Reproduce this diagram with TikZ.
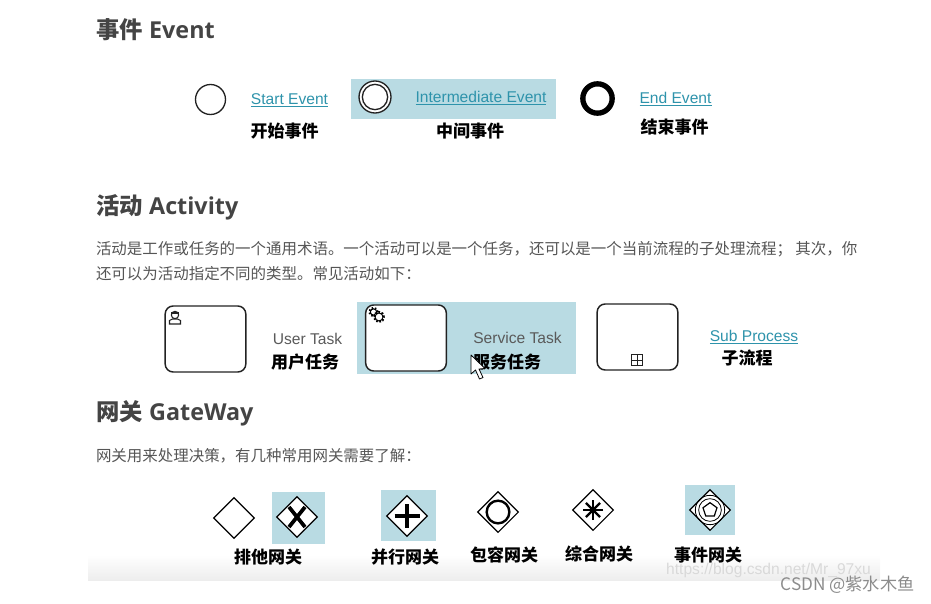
\documentclass[tikz,border=0pt]{standalone}
\usepackage{fontspec}
\setmainfont{Liberation Sans}
\newfontfamily\cjk{Noto Sans CJK SC}
\newfontfamily\headfont{Open Sans}
\usetikzlibrary{shapes.geometric}
\definecolor{typeHi}{HTML}{B9DBE3}
\definecolor{typeLink}{HTML}{2E93AB}
\definecolor{typeBody}{HTML}{555555}
\definecolor{typeHead}{HTML}{444444}
\definecolor{typeTask}{HTML}{5A5A5A}
\definecolor{typeLine}{HTML}{222222}
\newcommand{\linkText}[1]{\underline{#1}}
\newcommand{\cnComma}{\symbol{"FF0C}}
\newcommand{\cnSemi}{\symbol{"FF1B}}
\newcommand{\cnColon}{\symbol{"FF1A}}
\tikzset{
	heading/.style={anchor=west,text=typeHead,font=\fontsize{17.5}{20}\selectfont\bfseries},
	bodytext/.style={anchor=west,text=typeBody,font=\fontsize{11.6}{13}\cjk},
	linklabel/.style={text=typeLink,font=\fontsize{11.7}{14}\selectfont},
	tasklabel/.style={text=typeTask,font=\fontsize{11.7}{14}\selectfont},
	cnlabel/.style={text=black,font=\fontsize{12.75}{15}\cjk\bfseries},
	hibox/.style={fill=typeHi,draw=none},
	taskbox/.style={draw=typeLine,line width=1.1pt,rounded corners=6pt,fill=white,minimum width=60.5pt,minimum height=49.5pt},
	gatebox/.style={diamond,aspect=1,draw=black,line width=0.9pt,fill=white,minimum size=30.5pt},
	ringnode/.style={circle,draw=typeLine,minimum size=#1},
}
\begin{document}
\begin{tikzpicture}[x=0.75pt,y=-0.75pt,inner sep=0pt,outer sep=0pt]
	\useasboundingbox (0,0) rectangle (931,603);
	\shade[top color=white,bottom color=black!7] (88,555) rectangle (880,580);

	% event
	\node[heading] (headEvent) at (96,30) {{\cjk 事件} {\headfont Event}};
	\node[hibox,minimum width=153.75pt,minimum height=30pt] (hiEvent) at (453.5,99) {};
	\node[ringnode=22.5pt,line width=1pt] (startEvent) at (210.5,99.5) {};
	\node[ringnode=24pt,line width=1pt,fill=white] (midOuter) at (375,97) {};
	\node[ringnode=19pt,line width=1pt] (midInner) at (375,97) {};
	\node[ringnode=22pt,draw=black,line width=4pt] (endEvent) at (597.5,98.5) {};
	\node[linklabel] (startText) at (289.5,100) {\linkText{Start Event}};
	\node[linklabel] (midText) at (481,98) {\linkText{Intermediate Event}};
	\node[linklabel] (endText) at (675.5,99) {\linkText{End Event}};
	\node[cnlabel] (startCn) at (284.5,131) {开始事件};
	\node[cnlabel] (midCn) at (470,131) {中间事件};
	\node[cnlabel] (endCn) at (674.5,127) {结束事件};

	% activity
	\node[heading] (headActivity) at (96,207) {{\cjk 活动} {\headfont Activity}};
	\node[bodytext] (bodyOne) at (96,249.5) {活动是工作或任务的一个通用术语。一个活动可以是一个任务\cnComma 还可以是一个当前流程的子处理流程\cnSemi{} 其次\cnComma 你};
	\node[bodytext] (bodyTwo) at (96,273.5) {还可以为活动指定不同的类型。常见活动如下\cnColon};
	\node[hibox,minimum width=164.25pt,minimum height=54pt] (hiTask) at (466.5,338) {};
	\node[taskbox] (userTask) at (205.5,339) {};
	\node[taskbox] (serviceTask) at (406,338) {};
	\node[taskbox] (subTask) at (637.5,337) {};
	\node[tasklabel] (userText) at (307.5,339) {User Task};
	\node[tasklabel] (serviceText) at (517.5,338) {Service Task};
	\node[linklabel] (subText) at (754,337) {\linkText{Sub Process}};
	\node[cnlabel] (userCn) at (305,362) {用户任务};
	\node[cnlabel] (serviceCn) at (507,362) {服务任务};
	\node[cnlabel] (subCn) at (747,358) {子流程};
	% user icon
	\node[circle,draw=typeLine,line width=0.8pt,minimum size=5.5pt] (userHead) at (175,315) {};
	\draw[typeLine,line width=0.8pt,fill=white] (169.5,324) -- (169.5,320.5) -- (172.5,319) -- (177.5,319) -- (180.5,320.5) -- (180.5,324) -- cycle;
	\draw[typeLine,line width=1.2pt] (171,313) -- (179,313);
	% gear icon
	\foreach \gx/\gy/\gr in {373.5/312/3,379/317/3.6}{
		\draw[black,line width=1.8pt,dash pattern=on 1.2pt off 1.2pt,fill=white] (\gx,\gy) circle[radius=\gr pt];
		\draw[black,line width=0.7pt] (\gx,\gy) circle[radius=\gr pt-0.6pt];
	}
	% sub process marker
	\node[draw=typeLine,line width=0.6pt,minimum size=8pt] (subMark) at (637,360) {};
	\draw[typeLine,line width=0.6pt] (subMark.west) -- (subMark.east);
	\draw[typeLine,line width=0.6pt] (subMark.north) -- (subMark.south);
	% cursor
	\draw[black,line width=0.6pt,fill=white,line join=round] (471,355) -- (471,374) -- (475.5,370) -- (479.5,379) -- (483,377.5) -- (479,369) -- (485,368.5) -- cycle;

	% gateway
	\node[heading] (headGate) at (96,413) {{\cjk 网关} {\headfont GateWay}};
	\node[bodytext] (bodyGate) at (96,455.5) {网关用来处理决策\cnComma 有几种常用网关需要了解\cnColon};
	\node[hibox,minimum width=39.75pt,minimum height=39pt] (hiX) at (298.5,518) {};
	\node[hibox,minimum width=41.25pt,minimum height=38.25pt] (hiPlus) at (408.5,515.5) {};
	\node[hibox,minimum width=37.5pt,minimum height=37.5pt] (hiEv) at (710,510) {};
	\node[gatebox] (gatePlain) at (234,518) {};
	\node[gatebox] (gateX) at (297,517) {};
	\node[gatebox] (gatePlus) at (407,516) {};
	\node[gatebox] (gateIncl) at (498,512) {};
	\node[gatebox] (gateComplex) at (593,510) {};
	\node[gatebox] (gateEv) at (710,510) {};
	% gateway marks
	\draw[black,line width=2.8pt] (289,507) -- (305,527) (305,507) -- (289,527);
	\draw[black,line width=3.2pt] (394.5,516) -- (419.5,516) (407,504) -- (407,528);
	\node[circle,draw=black,line width=1.8pt,minimum size=17pt] (inclRing) at (498,512) {};
	\foreach \ang in {0,45,...,135}{
		\draw[black,line width=1.8pt] (gateComplex.center) ++(\ang:10) -- ++(\ang+180:20);
	}
	\node[circle,draw=black,line width=0.6pt,minimum size=22pt] (evOuter) at (710,510) {};
	\node[circle,draw=black,line width=0.6pt,minimum size=17pt] (evMid) at (710,510) {};
	\node[regular polygon,regular polygon sides=5,draw=black,line width=0.9pt,minimum size=11pt] (evPenta) at (710,510) {};
	\node[cnlabel] (gatePlainCn) at (268,557) {排他网关};
	\node[cnlabel] (gatePlusCn) at (405,557) {并行网关};
	\node[cnlabel] (gateInclCn) at (504,555) {包容网关};
	\node[cnlabel] (gateComplexCn) at (599,554) {综合网关};
	\node[cnlabel] (gateEvCn) at (708,555) {事件网关};

	% watermark
	\node[text=black!15,font=\fontsize{11.7}{14}\selectfont] (markUrl) at (768.5,570) {https://blog.csdn.net/Mr\_97xu};
	\node[text=black!45,font=\fontsize{12.9}{15}\cjk] (markCsdn) at (847.5,585) {CSDN @紫水木鱼};
\end{tikzpicture}
\end{document}
